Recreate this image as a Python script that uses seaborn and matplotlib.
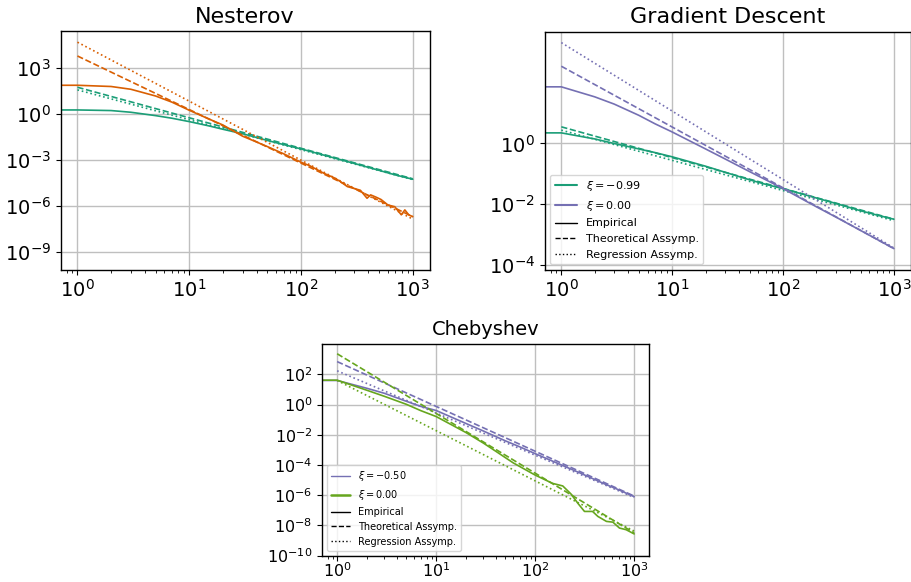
import numpy as np
import matplotlib.pyplot as plt
import seaborn as sns
from matplotlib.lines import Line2D

sns.set_style("ticks", {"axes.grid": True, "grid.color": ".75", "axes.edgecolor": "black",
                        "text.color": "black", "xtick.color": "black", "ytick.color": "black"})
plt.rcParams['font.family'] = ['DejaVu Sans']
plt.rcParams['axes.linewidth'] = 1.0
plt.rcParams['grid.linewidth'] = 1.0

pal = sns.color_palette("Dark2")
TEAL, ORANGE, PURPLE, GREEN = pal[0], pal[1], pal[2], pal[4]

# all values are log10 of the plotted quantity
# asymptotes are straight lines on log-log, given at iteration 1 and 1000
asym_iters = [1, 1000]

# Nesterov
nes_iters_a = [0, 1, 2, 3, 5, 7, 10, 15, 20, 30, 50, 70, 100, 150, 200, 300, 500, 700, 1000]
nes_emp_a = [0.24, 0.24, 0.20, 0.09, -0.13, -0.30, -0.52, -0.80, -1.02, -1.31, -1.75, -2.02, -2.30,
             -2.65, -2.90, -3.25, -3.70, -4.00, -4.28]
nes_theo_a = [1.72, -4.25]
nes_reg_a = [1.55, -4.30]

nes_iters_b = [0, 1, 2, 3, 5, 7, 10, 15, 20, 30, 40, 50, 70, 100, 120, 160, 200, 225, 260, 295,
               340, 390, 420, 470, 520, 600, 690, 790, 850, 920, 1000]
nes_emp_b = [1.85, 1.85, 1.77, 1.59, 1.15, 0.75, 0.22, -0.35, -0.74, -1.47, -1.85, -2.15, -2.62,
             -3.17, -3.40, -3.89, -4.20, -4.43, -4.76, -4.87, -5.00, -5.52, -5.30, -5.45, -5.60,
             -5.96, -6.07, -6.60, -6.28, -6.60, -6.72]
nes_theo_b = [3.76, -6.72]
nes_reg_b = [4.66, -6.88]

# Gradient Descent
gd_iters = [0, 1, 2, 3, 5, 7, 10, 20, 30, 50, 70, 100, 200, 300, 500, 700, 1000]
gd_emp_a = [0.35, 0.35, 0.15, 0.00, -0.18, -0.30, -0.44, -0.75, -0.95, -1.20, -1.35, -1.49,
            -1.80, -1.98, -2.22, -2.36, -2.50]
gd_theo_a = [0.55, -2.50]
gd_reg_a = [0.44, -2.55]
gd_emp_b = [1.87, 1.87, 1.54, 1.30, 0.93, 0.65, 0.38, -0.18, -0.51, -0.93, -1.20, -1.49,
            -2.09, -2.43, -2.87, -3.16, -3.47]
gd_theo_b = [2.55, -3.47]
gd_reg_b = [3.33, -3.45]

# Chebyshev
ch_iters_a = [0, 1, 2, 3, 5, 7, 10, 20, 30, 50, 70, 100, 200, 300, 500, 700, 1000]
ch_emp_a = [1.60, 1.60, 1.08, 0.75, 0.22, -0.12, -0.39, -1.25, -1.75, -2.40, -2.80, -3.25,
            -4.10, -4.60, -5.25, -5.65, -6.10]
ch_theo_a = [2.85, -6.06]
ch_reg_a = [2.24, -6.15]

ch_iters_b = [0, 1, 2, 3, 5, 7, 10, 20, 30, 40, 60, 100, 150, 190, 230, 270, 315, 380, 430,
              525, 610, 710, 830, 1000]
ch_emp_b = [1.62, 1.62, 0.95, 0.55, 0.02, -0.40, -0.79, -1.85, -2.55, -3.09, -3.86, -4.67,
            -5.22, -5.39, -5.92, -6.54, -7.08, -7.08, -7.41, -7.74, -7.79, -8.18, -8.29, -8.57]
ch_theo_b = [3.37, -8.50]
ch_reg_b = [1.60, -8.38]

W, H = 911, 582
fig = plt.figure(figsize=(W / 100, H / 100), dpi=100)


def box(l, r, t, b):
    return [l / W, 1 - b / H, (r - l) / W, (b - t) / H]


def panel(ax, curves, lw, ylim, yticks, title, fs_title, fs_tick, xpad):
    for it, emp, theo, reg, col in curves:
        sns.lineplot(ax=ax, x=np.array(it), y=10.0 ** np.array(emp), color=col, lw=lw)
        sns.lineplot(ax=ax, x=np.array(asym_iters), y=10.0 ** np.array(theo), color=col, lw=lw,
                     linestyle="--")
        sns.lineplot(ax=ax, x=np.array(asym_iters), y=10.0 ** np.array(reg), color=col, lw=lw,
                     linestyle=":")
    ax.set_xscale("log")
    ax.set_yscale("log")
    ax.set_xlim(10 ** -0.15, 10 ** 3.15)
    ax.set_ylim(*ylim)
    ax.set_yticks(yticks)
    ax.yaxis.set_minor_locator(plt.NullLocator())
    ax.grid(True, which="major")
    ax.grid(False, which="minor")
    ax.tick_params(labelsize=fs_tick)
    ax.tick_params(axis="x", pad=xpad)
    ax.set_title(title, fontsize=fs_title)


def legend(ax, labels, cols, fs, lws):
    handles = [Line2D([], [], color=c, lw=w) for c, w in zip(cols, lws)]
    handles += [Line2D([], [], color="black", lw=1.0, linestyle=s) for s in ["-", "--", ":"]]
    names = labels + ["Empirical", "Theoretical Assymp.", "Regression Assymp."]
    ax.legend(handles, names, loc="lower left", fontsize=fs, frameon=True)


ax1 = fig.add_axes(box(60.7, 429.5, 31, 270))
panel(ax1, [(nes_iters_a, nes_emp_a, nes_theo_a, nes_reg_a, TEAL),
            (nes_iters_b, nes_emp_b, nes_theo_b, nes_reg_b, ORANGE)],
      1.2, (10 ** -10.2, 10 ** 5.39), [1e-9, 1e-6, 1e-3, 1e0, 1e3], "Nesterov", 16, 14, 3.0)

ax2 = fig.add_axes(box(544.7, 910.5, 31.7, 269.5))
panel(ax2, [(gd_iters, gd_emp_a, gd_theo_a, gd_reg_a, TEAL),
            (gd_iters, gd_emp_b, gd_theo_b, gd_reg_b, PURPLE)],
      1.2, (10 ** -4.16, 10 ** 3.69), [1e-4, 1e-2, 1e0], "Gradient Descent", 16, 14, 3.0)
legend(ax2, [r"$\xi = -0.99$", r"$\xi = 0.00$"], [TEAL, PURPLE], 8, [1.5, 1.5])

ax3 = fig.add_axes(box(322.3, 649, 343.5, 555.5))
panel(ax3, [(ch_iters_a, ch_emp_a, ch_theo_a, ch_reg_a, PURPLE),
            (ch_iters_b, ch_emp_b, ch_theo_b, ch_reg_b, GREEN)],
      1.2, (1e-10, 10 ** 4.05), [1e-10, 1e-8, 1e-6, 1e-4, 1e-2, 1e0, 1e2], "Chebyshev", 14, 11.5,
      1.0)
legend(ax3, [r"$\xi = -0.50$", r"$\xi = 0.00$"], [PURPLE, GREEN], 7, [1.0, 1.8])

fig.savefig("out.png", dpi=100)
